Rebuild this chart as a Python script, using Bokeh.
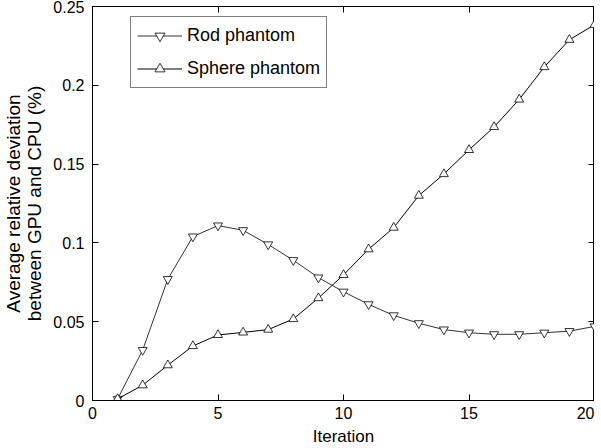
from bokeh.plotting import figure
from bokeh.models import LinearAxis, FixedTicker, CustomJSTickFormatter, Range1d, Legend, LegendItem
from bokeh.embed import file_html
from bokeh.resources import INLINE

iterations = list(range(1, 21))
rod = [0.001, 0.032, 0.077, 0.104, 0.111, 0.108, 0.099, 0.089, 0.078, 0.069,
       0.061, 0.054, 0.049, 0.045, 0.043, 0.042, 0.042, 0.043, 0.044, 0.047]
sphere = [0.001, 0.0097, 0.0224, 0.0346, 0.0416, 0.0432, 0.045, 0.0517, 0.065, 0.0797,
          0.096, 0.1097, 0.130, 0.1437, 0.159, 0.1736, 0.191, 0.2116, 0.2289, 0.2384]
x_ticks = [0, 5, 10, 15, 20]
y_ticks = [0, 0.05, 0.1, 0.15, 0.2, 0.25]
labels = ["Rod phantom", "Sphere phantom"]

FONT = "Liberation Sans"

p = figure(width=594, height=448, output_backend="svg", toolbar_location=None,
           x_range=Range1d(0, 20), y_range=Range1d(0, 0.25),
           min_border_left=85, min_border_right=0, min_border_top=6, min_border_bottom=45)
p.grid.visible = False
p.outline_line_color = "black"
p.background_fill_color = "white"
p.border_fill_color = "white"

fmt = CustomJSTickFormatter(code="var s = tick.toFixed(2); s = s.replace(/0+$/, ''); s = s.replace(/\\.$/, ''); return s;")
blank = CustomJSTickFormatter(code="return '';")

for ax in p.xaxis + p.yaxis:
    ax.major_tick_in = 6
    ax.major_tick_out = 0
    ax.minor_tick_in = 0
    ax.minor_tick_out = 0
    ax.axis_line_color = "black"
    ax.major_tick_line_color = "black"
    ax.major_label_text_font = FONT
    ax.major_label_text_font_size = "16px"
    ax.major_label_text_color = "black"
    ax.axis_label_text_font = FONT
    ax.axis_label_text_font_style = "normal"
    ax.axis_label_text_color = "black"

p.xaxis.ticker = FixedTicker(ticks=x_ticks)
p.yaxis.ticker = FixedTicker(ticks=y_ticks)
p.yaxis.formatter = fmt
p.xaxis.axis_label = "Iteration"
p.xaxis.axis_label_text_font_size = "17px"
p.xaxis.axis_label_text_line_height = 1.0
p.xaxis.major_label_standoff = 6
p.xaxis.axis_label_standoff = 5
p.yaxis.axis_label = "Average relative deviation\nbetween GPU and CPU (%)"
p.yaxis.axis_label_text_font_size = "19px"
p.yaxis.axis_label_text_line_height = 1.0
p.yaxis.major_label_standoff = 8
p.yaxis.axis_label_standoff = 5

top = LinearAxis(ticker=FixedTicker(ticks=x_ticks), formatter=blank,
                 major_label_standoff=0, axis_label_standoff=0,
                 major_label_text_font_size="1px",
                 major_tick_in=6, major_tick_out=0, minor_tick_in=0, minor_tick_out=0)
right = LinearAxis(ticker=FixedTicker(ticks=y_ticks), formatter=blank,
                   major_label_standoff=0, axis_label_standoff=0,
                   major_label_text_font_size="1px",
                   major_tick_in=6, major_tick_out=0, minor_tick_in=0, minor_tick_out=0)
p.add_layout(top, "above")
p.add_layout(right, "right")

r1 = p.line(iterations, rod, line_color="#333333", line_width=1)
m1 = p.scatter(iterations, rod, marker="inverted_triangle", size=9, fill_color="white",
               line_color="black", line_width=0.8)
r2 = p.line(iterations, sphere, line_color="black", line_width=1)
m2 = p.scatter(iterations, sphere, marker="triangle", size=9, fill_color="white",
               line_color="black", line_width=0.8)

legend = Legend(items=[LegendItem(label=labels[0], renderers=[r1, m1]),
                       LegendItem(label=labels[1], renderers=[r2, m2])],
                location=(38, 312))
legend.border_line_color = "black"
legend.border_line_width = 1
legend.label_text_font = FONT
legend.label_text_font_size = "18px"
legend.label_text_color = "black"
legend.glyph_width = 45
legend.glyph_height = 25
legend.label_height = 25
legend.label_standoff = 5
legend.spacing = 8
legend.padding = 6
legend.margin = 0
legend.background_fill_alpha = 1
p.add_layout(legend)

open("out.html", "w").write(file_html(p, INLINE))
